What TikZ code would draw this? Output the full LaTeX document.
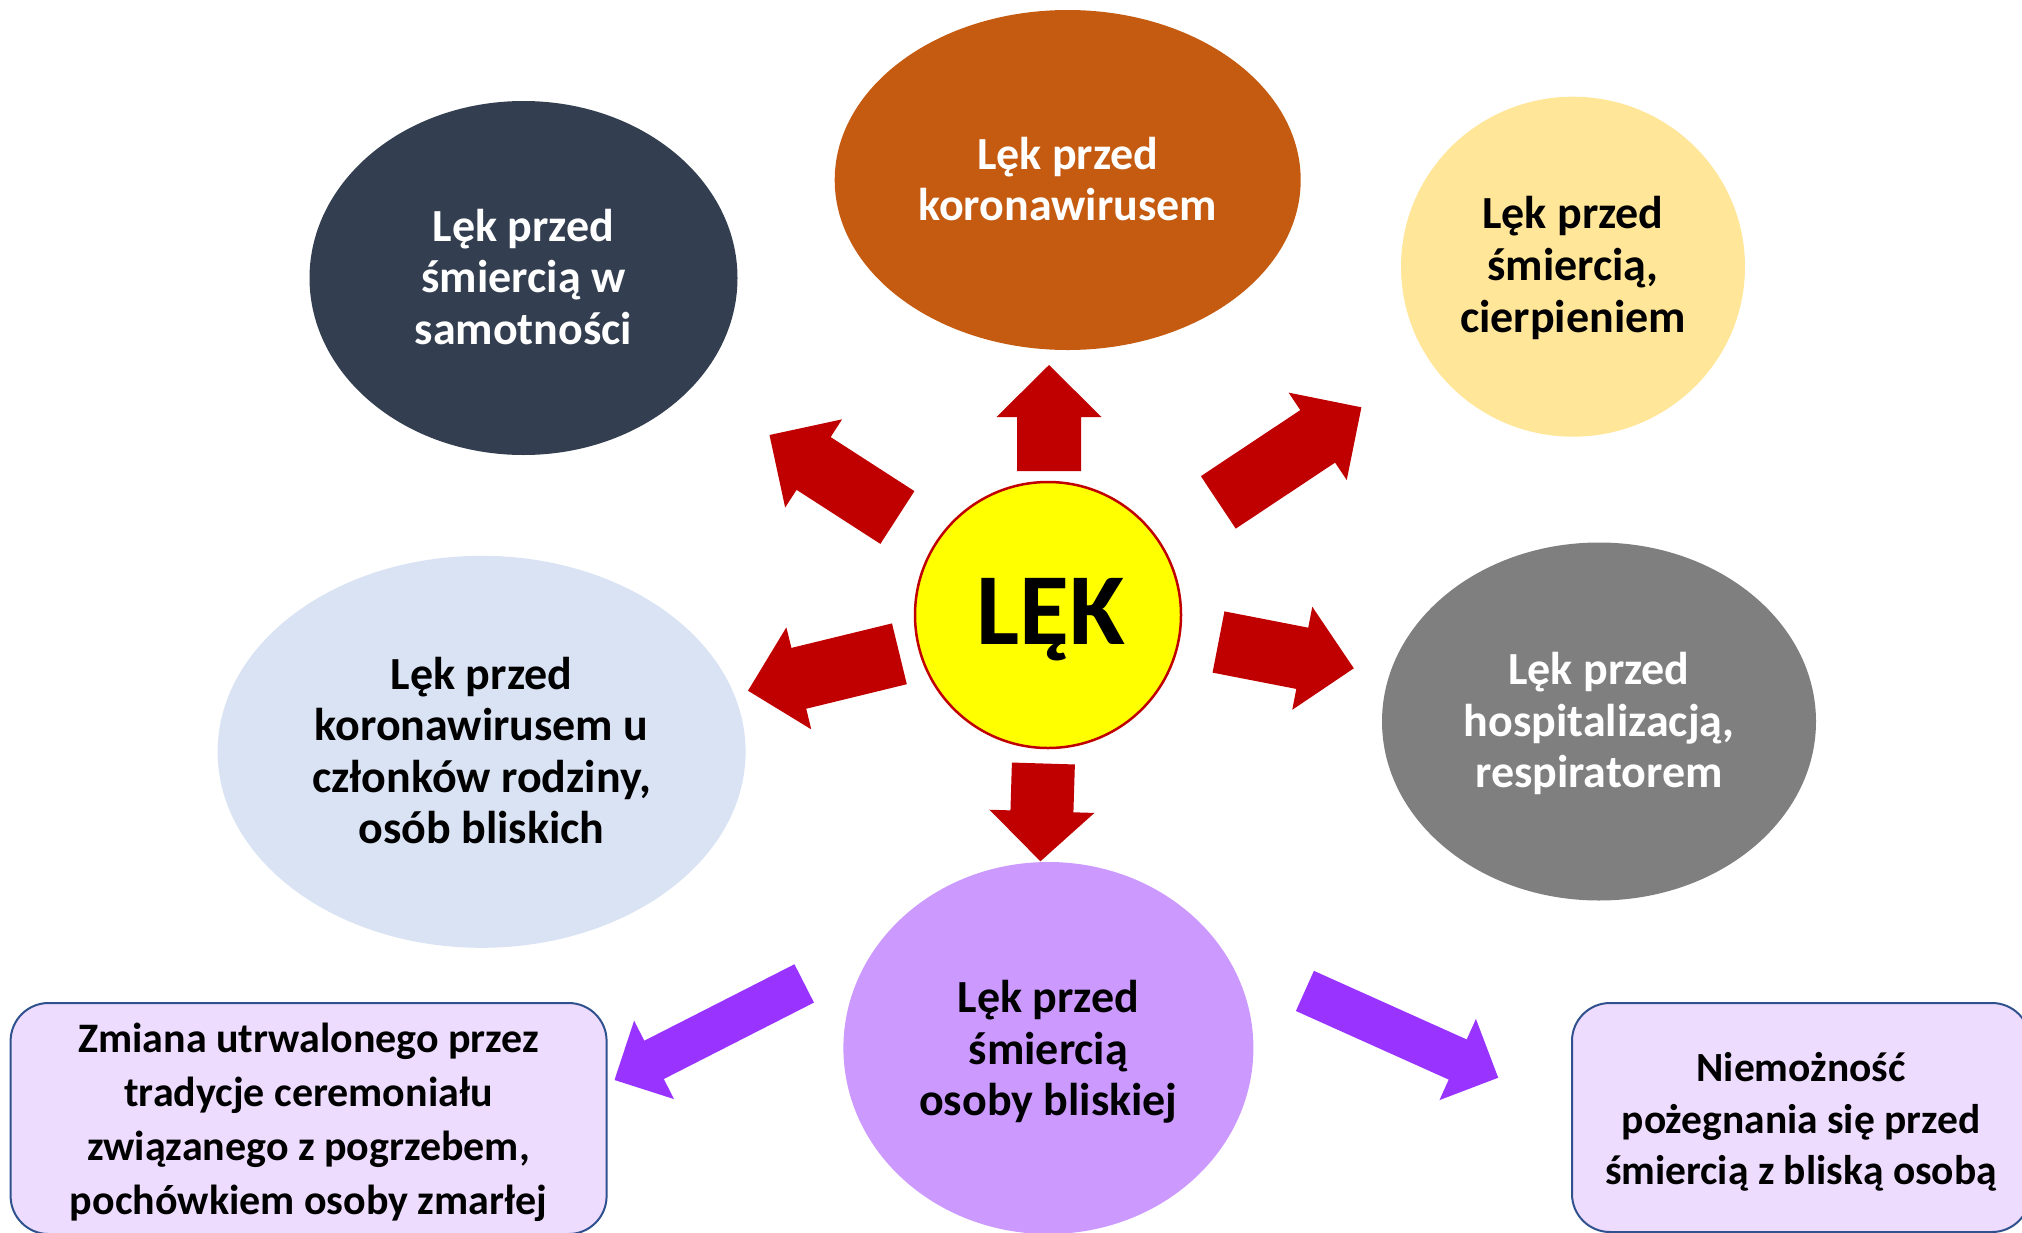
\documentclass[tikz,border=0pt]{standalone}
\usepackage{fontspec}
\setmainfont{Carlito}
\usetikzlibrary{shapes.geometric,calc}

\definecolor{navyfill}{HTML}{333F50}
\definecolor{rustfill}{HTML}{C55A11}
\definecolor{sandfill}{HTML}{FFE699}
\definecolor{greyfill}{HTML}{7F7F7F}
\definecolor{skyfill}{HTML}{DAE3F3}
\definecolor{lilacfill}{HTML}{CC99FF}
\definecolor{boxfill}{HTML}{EEDCFE}
\definecolor{boxedge}{HTML}{2F528F}
\definecolor{arrowred}{HTML}{C00000}
\definecolor{arrowviolet}{HTML}{9933FF}
\definecolor{coreyellow}{HTML}{FFFF00}

% block arrow: colour, tail, tip, shaft half width, head half width, head length
\newcommand{\blockarrow}[6]{%
  \coordinate (ba-base) at ($(#3)!#6!(#2)$);
  \fill[#1] ($(#2)!#4!90:(#3)$) -- ($(ba-base)!#4!90:(#3)$)
    -- ($(ba-base)!#5!90:(#3)$) -- (#3)
    -- ($(ba-base)!#5!-90:(#3)$) -- ($(ba-base)!#4!-90:(#3)$)
    -- ($(#2)!#4!-90:(#3)$) -- cycle;
}

\tikzset{
  bubble/.style={ellipse, draw=none, inner sep=0pt},
  bubbletext/.style={align=center, inner sep=0pt,
    font=\fontsize{46}{51.6}\selectfont\bfseries},
  notebox/.style={rectangle, rounded corners=38pt, draw=boxedge,
    line width=2pt, fill=boxfill, align=center, inner sep=0pt},
}

\begin{document}
\begin{tikzpicture}[x=1pt, y=-1pt]
\useasboundingbox (0,0) rectangle (2022,1232);

% surrounding bubbles
\node[bubble, fill=navyfill, minimum width=428pt, minimum height=354pt] (samot) at (523.5,278) {};
\node[bubbletext, text=white] (samot-t) at (523.5,277) {Lęk przed\\śmiercią w\\samotności};

\node[bubble, fill=rustfill, minimum width=466pt, minimum height=340pt] (korona) at (1067.7,180) {};
\node[bubbletext, text=white] (korona-t) at (1067.7,179) {Lęk przed\\koronawirusem};

\node[bubble, fill=sandfill, minimum width=344pt, minimum height=340pt] (cierp) at (1573,266.7) {};
\node[bubbletext, text=black] (cierp-t) at (1573,268) {Lęk przed\\śmiercią,\\cierpieniem};

\node[bubble, fill=greyfill, minimum width=434pt, minimum height=358pt] (hosp) at (1599,721.5) {};
\node[bubbletext, text=white] (hosp-t) at (1599,723.5) {Lęk przed\\hospitalizacją,\\respiratorem};

\node[bubble, fill=skyfill, minimum width=528pt, minimum height=392pt] (rodz) at (481.6,751.8) {};
\node[bubbletext, text=black] (rodz-t) at (481.6,750.5) {Lęk przed\\koronawirusem u\\członków rodziny,\\osób bliskich};

\node[bubble, fill=lilacfill, minimum width=410pt, minimum height=372pt] (blisk) at (1048.4,1048) {};
\node[bubbletext, text=black] (blisk-t) at (1048.4,1052) {Lęk przed\\śmiercią\\osoby bliskiej};

% centre
\node[circle, fill=coreyellow, draw=arrowred, line width=2.5pt, minimum size=266pt, inner sep=0pt] (lek) at (1048,615) {};
\node[font=\fontsize{102}{110}\selectfont\bfseries, anchor=base, inner sep=0pt] (lek-t) at (1051,644) {LĘK};

% red arrows around the centre
\coordinate (up-tail) at (1049,471);
\coordinate (up-tip)  at (1049,365);
\coordinate (ul-tail) at (897.4,517.5);
\coordinate (ul-tip)  at (769.5,435);
\coordinate (ur-tail) at (1218.3,502.4);
\coordinate (ur-tip)  at (1361.4,407.3);
\coordinate (le-tail) at (899.4,653.8);
\coordinate (le-tip)  at (748,690.7);
\coordinate (ri-tail) at (1218.5,642);
\coordinate (ri-tip)  at (1353.8,668.3);
\coordinate (dn-tail) at (1043.4,763.5);
\coordinate (dn-tip)  at (1040.4,861.3);

\blockarrow{arrowred}{up-tail}{up-tip}{32pt}{52.5pt}{52pt}
\blockarrow{arrowred}{ul-tail}{ul-tip}{31.4pt}{52.5pt}{52.5pt}
\blockarrow{arrowred}{ur-tail}{ur-tip}{31.5pt}{52.5pt}{52.5pt}
\blockarrow{arrowred}{le-tail}{le-tip}{31.3pt}{52.5pt}{52.3pt}
\blockarrow{arrowred}{ri-tail}{ri-tip}{31.2pt}{52.5pt}{52.5pt}
\blockarrow{arrowred}{dn-tail}{dn-tip}{31.5pt}{52.5pt}{50pt}

% violet arrows towards the two notes
\coordinate (vl-tail) at (804.2,983.4);
\coordinate (vl-tip)  at (614.5,1080);
\coordinate (vr-tail) at (1304.9,990.9);
\coordinate (vr-tip)  at (1498.2,1077.7);

\blockarrow{arrowviolet}{vl-tail}{vl-tip}{21.5pt}{44pt}{44.4pt}
\blockarrow{arrowviolet}{vr-tail}{vr-tip}{22pt}{44.5pt}{44.4pt}

% notes
\node[notebox, minimum width=596pt, minimum height=231pt] (tradycja) at (308.6,1118.5) {};
\node[align=center, inner sep=0pt, font=\fontsize{42}{54}\selectfont\bfseries]
  (tradycja-t) at (308.6,1122.5)
  {Zmiana utrwalonego przez\\tradycje ceremoniału\\związanego z pogrzebem,\\pochówkiem osoby zmarłej};

\node[notebox, minimum width=458pt, minimum height=229pt] (pozegnanie) at (1801,1117.5) {};
\node[align=center, inner sep=0pt, font=\fontsize{41.5}{51.6}\selectfont\bfseries]
  (pozegnanie-t) at (1801,1122)
  {Niemożność\\pożegnania się przed\\śmiercią z bliską osobą};

\end{tikzpicture}
\end{document}
